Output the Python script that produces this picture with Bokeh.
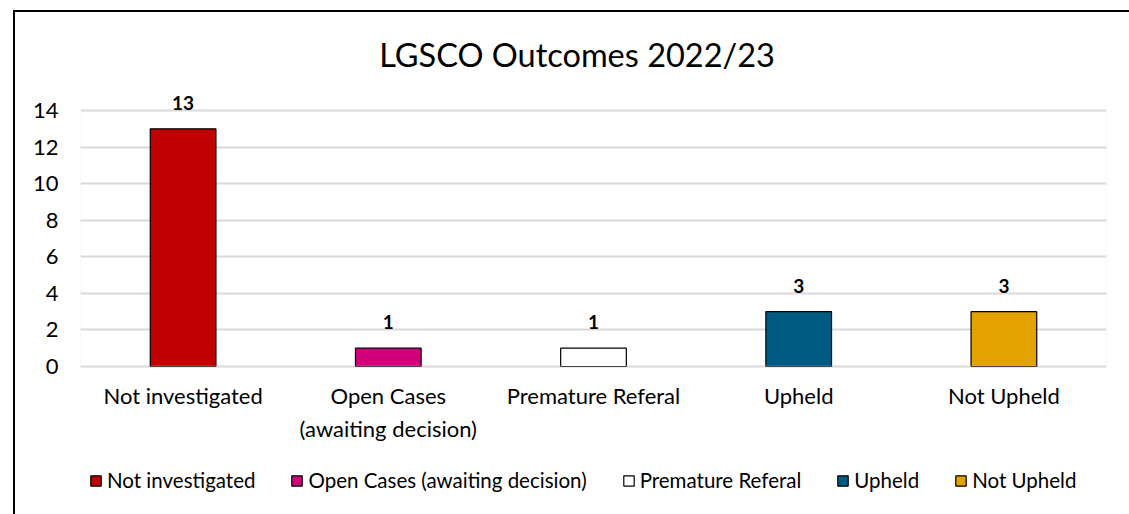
from bokeh.plotting import figure
from bokeh.models import (ColumnDataSource, FactorRange, Range1d, Label, LabelSet,
                          Legend, LegendItem, BoxAnnotation, FixedTicker, InlineStyleSheet)
from bokeh.core.properties import value
from bokeh.embed import file_html
from bokeh.resources import INLINE

title_text = "LGSCO Outcomes 2022/23"
categories = ["Not investigated", "Open Cases (awaiting decision)", "Premature Referal",
              "Upheld", "Not Upheld"]
tick_labels = ["Not investigated", "Open Cases\n(awaiting decision)", "Premature Referal",
               "Upheld", "Not Upheld"]
values = [13, 1, 1, 3, 3]
colors = ["#C00000", "#D1007A", "#FFFFFF", "#005B82", "#E2A300"]
y_ticks = [0, 2, 4, 6, 8, 10, 12, 14]
y_max_axis = 14

FONT = "Lato"
W, H = 1129, 514
# the frame spans the whole lower chart so title, value labels and legend are not clipped
Y_TOP = 18.375
Y_BOTTOM = -8.094

src = ColumnDataSource(dict(x=tick_labels, top=values, color=colors,
                            label=[str(v) for v in values]))

p = figure(width=W, height=H, x_range=FactorRange(*tick_labels),
           y_range=Range1d(Y_BOTTOM, Y_TOP), output_backend="svg", toolbar_location=None,
           min_border_left=80, min_border_right=23, min_border_top=30,
           min_border_bottom=0)
# outer chart border (left and top edges) painted behind a transparent canvas border
p.border_fill_alpha = 0
p.background_fill_color = "#FFFFFF"
p.stylesheets = [InlineStyleSheet(css=(
    ":host { background-image: linear-gradient(#000000, #000000), "
    "linear-gradient(#000000, #000000); background-size: 2px 100%, 100% 2px; "
    "background-position: 13px 10px, 13px 10px; background-repeat: no-repeat; }"
))]

p.outline_line_color = None
p.xgrid.grid_line_color = None
p.ygrid.grid_line_color = "#D9D9D9"
p.ygrid.grid_line_width = 2
p.yaxis.ticker = FixedTicker(ticks=y_ticks)
p.xaxis.fixed_location = 0

plot_area = BoxAnnotation(bottom=0, top=y_max_axis, fill_alpha=0,
                          line_color="#E4E4E4", line_width=2)
p.add_layout(plot_area)

for ax in (p.xaxis[0], p.yaxis[0]):
    ax.axis_line_color = None
    ax.major_tick_line_color = None
    ax.minor_tick_line_color = None
    ax.major_label_text_font = FONT
    ax.major_label_text_color = "#000000"
p.yaxis.major_label_text_font_size = "22px"
p.yaxis.major_label_standoff = 16
p.xaxis.major_label_text_font_size = "22px"
p.xaxis.major_label_standoff = 10

r = p.vbar(x="x", top="top", bottom=0, width=0.32, source=src,
           fill_color="color", line_color="#000000", line_width=1.2)

labels = LabelSet(x="x", y="top", text="label", source=src, y_offset=19,
                  text_align="center", text_baseline="alphabetic",
                  text_font=value(FONT), text_font_style="bold",
                  text_font_size="19px", text_color="#000000")
p.add_layout(labels)

title = Label(x=2.42, y=17.06, text=title_text, text_align="center",
              text_baseline="alphabetic", text_font=FONT, text_font_size="32.5px",
              text_color="#000000")
p.add_layout(title)

items = [LegendItem(label=c, renderers=[r], index=i) for i, c in enumerate(categories)]
legend = Legend(items=items, orientation="horizontal", location=(9, 22),
                glyph_width=13, glyph_height=13, label_standoff=5, spacing=35,
                padding=0, margin=0, border_line_color=None,
                background_fill_alpha=0, label_text_font=FONT,
                label_text_font_size="20.5px", label_text_color="#000000")
p.add_layout(legend, "center")

open("out.html", "w").write(file_html(p, INLINE))
